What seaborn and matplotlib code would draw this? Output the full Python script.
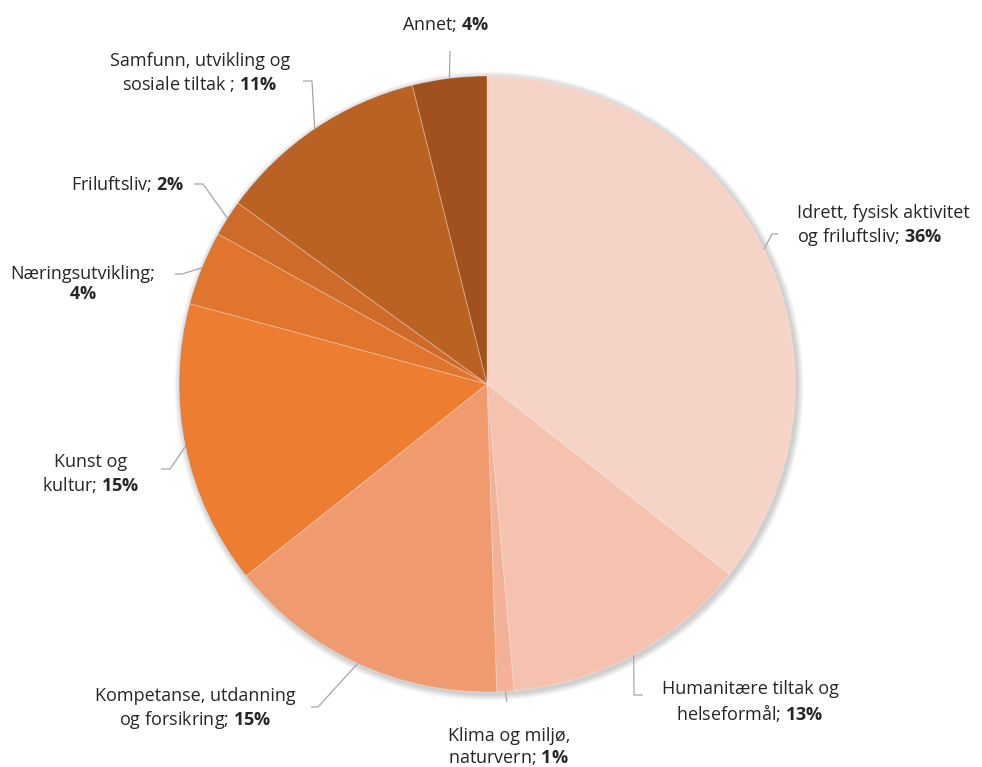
import numpy as np
import matplotlib
matplotlib.use("Agg")
import matplotlib.pyplot as plt
import seaborn as sns
from matplotlib.patches import Circle

# data (share of total, %)
categories = [
    "Idrett, fysisk aktivitet\nog friluftsliv;",
    "Humanitære tiltak og\nhelseformål;",
    "Klima og miljø,\nnaturvern;",
    "Kompetanse, utdanning\nog forsikring;",
    "Kunst og\nkultur;",
    "Næringsutvikling;\n",
    "Friluftsliv;",
    "Samfunn, utvikling og\nsosiale tiltak ;",
    "Annet;",
]
shares = [35.6, 13.0, 0.9, 14.8, 14.9, 3.9, 1.9, 11.1, 3.9]
colors = ["#F6D3C7", "#F4C2AF", "#F2B297", "#F09A70", "#ED7D31",
          "#E0752E", "#CF6B2A", "#BA6124", "#A0521E"]

# label layout in pixels (x, y of text centre, alignment, leader knee, leader end)
W, H = 982, 767
CX, CY, R = 487, 384, 308
label_pos = [
    (797, 226, "left", (772, 234), (778, 234)),
    (750, 702, "center", (634, 695), (643, 695)),
    (448, 747, "left", None, (507, 702)),
    (195, 709, "center", (318, 707), (311, 707)),
    (91, 474, "center", (170, 469), (161, 469)),
    (83, 284, "center", (182, 274), (175, 274)),
    (184, 184, "right", (203, 184), (194, 184)),
    (200, 73, "center", (312, 81), (303, 81)),
    (446, 24, "center", None, (450, 51)),
]

sns.set_theme(style="white")
plt.rcParams["font.family"] = ["Open Sans", "DejaVu Sans"]
plt.rcParams["mathtext.fontset"] = "custom"
plt.rcParams["mathtext.rm"] = "Open Sans"
plt.rcParams["mathtext.bf"] = "Open Sans:bold"


def px(x, y):
    # pixel coords (y down) -> data coords (y up)
    return x, H - y


fig = plt.figure(figsize=(W / 100, H / 100), dpi=100)
ax = fig.add_axes([0, 0, 1, 1])

# soft shadow behind the pie
for i in range(8):
    ax.add_patch(Circle(px(CX + 2, CY + 2), R + 1 + i * 0.8, color="black",
                        alpha=0.025, lw=0, zorder=0))

palette = sns.color_palette(colors)
wedges, _ = ax.pie(shares, colors=palette, startangle=90, counterclock=False,
                   center=px(CX, CY), radius=R, frame=False,
                   wedgeprops=dict(edgecolor=(1, 1, 1, 0.35), linewidth=0.6))
for w in wedges:
    w.set_zorder(2)

txt_color = "#262626"
line_color = "#A6A6A6"
for w, cat, val, pos in zip(wedges, categories, shares, label_pos):
    tx, ty, ha, knee, end = pos
    mid = np.deg2rad((w.theta1 + w.theta2) / 2)
    ex = w.center[0] + R * np.cos(mid)
    ey = w.center[1] + R * np.sin(mid)
    pts = [(ex, ey)]
    if knee is not None:
        pts.append(px(*knee))
    pts.append(px(*end))
    xs, ys = zip(*pts)
    ax.plot(xs, ys, color=line_color, lw=0.9, zorder=3, solid_capstyle="butt")

    sep = "" if cat.endswith("\n") else " "
    label = cat + sep + r"$\mathbf{" + f"{round(val)}" + r"\%}$"
    ax.text(*px(tx, ty), label, ha=ha, va="center", ma=ha, fontsize=13,
            color=txt_color, linespacing=1.2, zorder=4)

ax.set_xlim(0, W)
ax.set_ylim(0, H)
ax.set_aspect("equal")
ax.axis("off")

fig.savefig("out.png", dpi=100, facecolor="white")
